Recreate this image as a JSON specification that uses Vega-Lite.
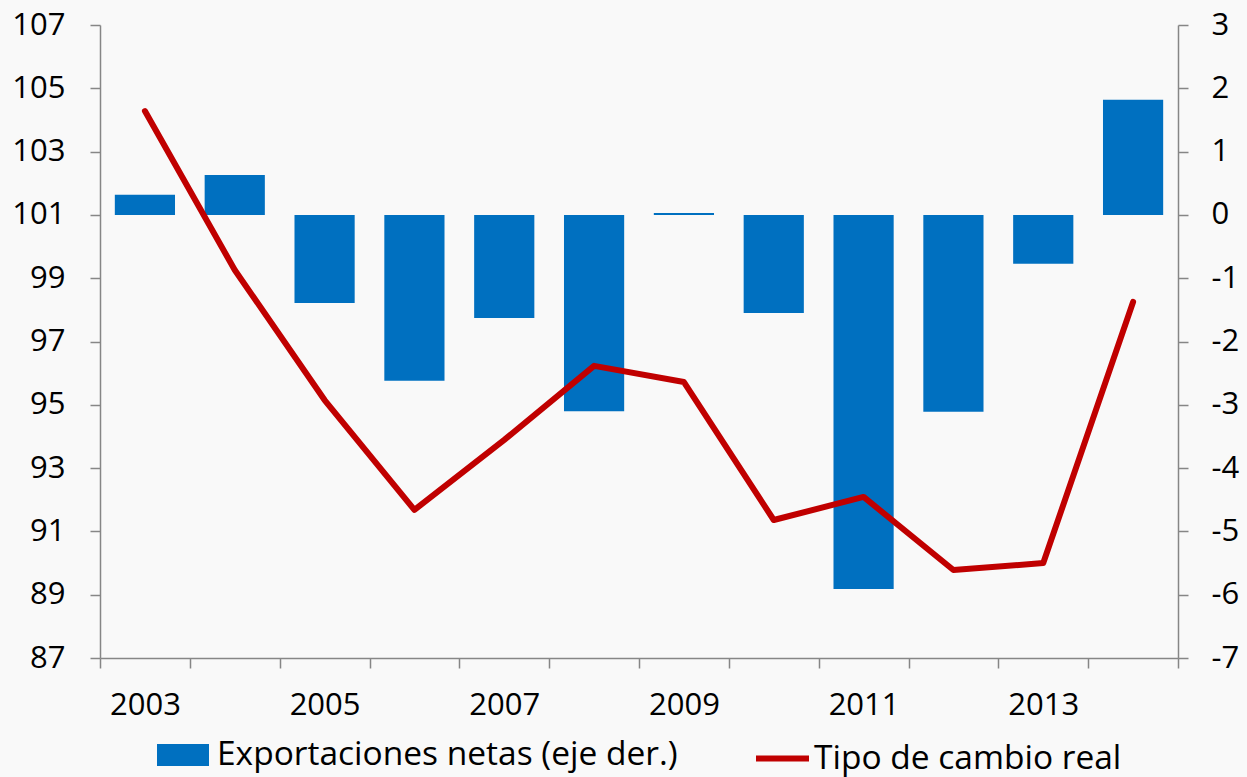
{
  "$schema": "https://vega.github.io/schema/vega-lite/v6.json",
  "width": 1078,
  "height": 633,
  "autosize": {"type": "none"},
  "padding": {"left": 100, "top": 25, "right": 69, "bottom": 119},
  "background": "#f9f9f9",
  "config": {
    "view": {"stroke": null},
    "font": "Open Sans",
    "axis": {
      "domainColor": "#868686",
      "tickColor": "#868686",
      "domainWidth": 1.5,
      "tickWidth": 1.5,
      "tickSize": 10,
      "labelFont": "Open Sans",
      "labelFontSize": 31,
      "labelColor": "#000000",
      "grid": false,
      "title": null
    },
    "legend": {
      "labelFont": "Open Sans",
      "labelFontSize": 33.5,
      "labelColor": "#000000",
      "labelLimit": 0,
      "padding": 0,
      "title": null
    }
  },
  "data": {
    "values": [
      {"year": 2003, "exp": 0.32, "tcr": 104.28},
      {"year": 2004, "exp": 0.63, "tcr": 99.26},
      {"year": 2005, "exp": -1.39, "tcr": 95.15},
      {"year": 2006, "exp": -2.62, "tcr": 91.68},
      {"year": 2007, "exp": -1.63, "tcr": 93.89},
      {"year": 2008, "exp": -3.1, "tcr": 96.23},
      {"year": 2009, "exp": 0.03, "tcr": 95.72},
      {"year": 2010, "exp": -1.55, "tcr": 91.36},
      {"year": 2011, "exp": -5.91, "tcr": 92.09},
      {"year": 2012, "exp": -3.11, "tcr": 89.78},
      {"year": 2013, "exp": -0.77, "tcr": 90.0},
      {"year": 2014, "exp": 1.82, "tcr": 98.25}
    ]
  },
  "layer": [
    {
      "mark": {"type": "bar", "width": {"band": 0.67}, "color": "#0070C0"},
      "encoding": {
        "x": {
          "field": "year", "type": "ordinal",
          "scale": {"paddingInner": 0, "paddingOuter": 0},
          "axis": {"tickBand": "extent", "labelAngle": 0, "labelOverlap": false, "labelPadding": 22,
                   "labelExpr": "datum.value % 2 == 1 ? datum.label : ''"}
        },
        "y": {
          "field": "exp", "type": "quantitative",
          "scale": {"domain": [-7, 3], "nice": false},
          "axis": {"orient": "right", "values": [-7,-6,-5,-4,-3,-2,-1,0,1,2,3], "labelPadding": 23,
                   "labelExpr": "replace(datum.label, '\u2212', '-')"}
        },
        "color": {
          "datum": "Exportaciones netas (eje der.)",
          "scale": {"range": ["#0070C0"]},
          "legend": {"orient": "none", "legendX": 57, "legendY": 704, "symbolType": "M-1,-0.42H1V0.42H-1Z", "symbolSize": 2704, "symbolStrokeWidth": 0, "symbolOpacity": 1, "labelOffset": 8}
        }
      }
    },
    {
      "mark": {"type": "line", "color": "#C00000", "strokeWidth": 6, "strokeCap": "round", "strokeJoin": "round"},
      "encoding": {
        "x": {
          "field": "year", "type": "ordinal",
          "scale": {"paddingInner": 0, "paddingOuter": 0},
          "axis": {"tickBand": "extent", "labelAngle": 0, "labelOverlap": false, "labelPadding": 22,
                   "labelExpr": "datum.value % 2 == 1 ? datum.label : ''"}
        },
        "y": {
          "field": "tcr", "type": "quantitative",
          "scale": {"domain": [87, 107], "nice": false, "zero": false},
          "axis": {"orient": "left", "values": [87,89,91,93,95,97,99,101,103,105,107], "labelPadding": 25}
        },
        "color": {
          "datum": "Tipo de cambio real",
          "scale": {"range": ["#C00000"]},
          "legend": {"orient": "none", "legendX": 653, "legendY": 704, "symbolType": "stroke", "symbolSize": 2809, "symbolStrokeWidth": 6, "labelOffset": 2}
        }
      }
    }
  ],
  "resolve": {"scale": {"y": "independent", "color": "independent"}}
}
